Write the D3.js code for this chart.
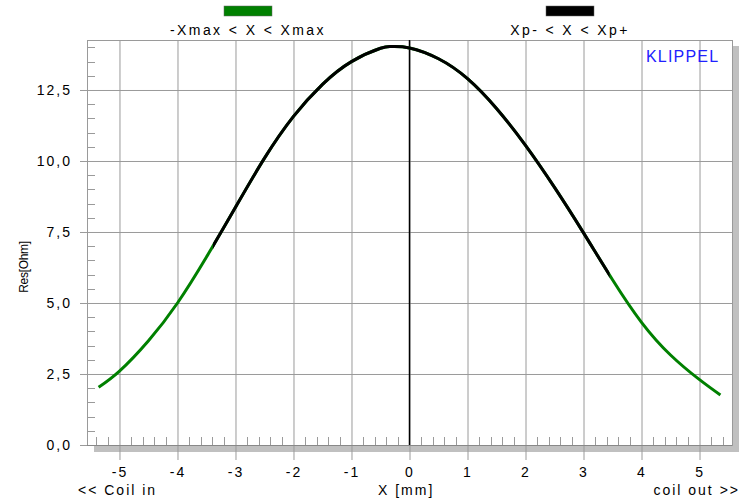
<html>
  <head>
    <script src="https://d3js.org/d3.v7.min.js"></script>
  </head>
  <style>
  body{ margin:0; background:#fff; }
  text{ font-family: "Liberation Sans", Arial, sans-serif; fill:#000; }
  </style>
  <body>
    <svg id="chart" width="742" height="502"></svg>

    <script>
    // values
    const resX = [-5.36, -5.0, -4.5, -4.0, -3.5, -3.0, -2.5, -2.0, -1.5, -1.0, -0.5, -0.3, 0.0, 0.5, 1.0, 1.5, 2.0, 2.5, 3.0, 3.5, 4.0, 4.5, 5.0, 5.36];
    const resY = [2.03, 2.6, 3.67, 5.0, 6.62, 8.37, 10.1, 11.57, 12.7, 13.5, 13.97, 14.03, 13.98, 13.6, 12.9, 11.85, 10.55, 9.07, 7.47, 5.82, 4.32, 3.17, 2.3, 1.76];
    const xpMinus = -3.39, xpPlus = 3.45;
    const xTicks = [-5, -4, -3, -2, -1, 0, 1, 2, 3, 4, 5];
    const yTicks = [0, 2.5, 5, 7.5, 10, 12.5];
    const yTickLabels = ["0,0", "2,5", "5,0", "7,5", "10,0", "12,5"];
    const legendLabels = ["-Xmax < X < Xmax", "Xp- < X < Xp+"];
    const legendColors = ["#008000", "#000000"];

    const svg = d3.select("#chart");
    const pLeft = 87, pRight = 732, pTop = 40, pBottom = 445;
    const x = d3.scaleLinear().domain([-5.56, 5.56]).range([pLeft, pRight]);
    const y = d3.scaleLinear().domain([0, 14.26]).range([pBottom, pTop]);

    // shadow
    svg.append("rect").attr("x", pRight + 1).attr("y", pTop + 6).attr("width", 6).attr("height", pBottom - pTop + 1).attr("fill", "#c0c0c0");
    svg.append("rect").attr("x", pLeft + 7).attr("y", pBottom + 1).attr("width", pRight - pLeft).attr("height", 6).attr("fill", "#c0c0c0");
    svg.append("rect").attr("x", pLeft).attr("y", pTop).attr("width", pRight - pLeft).attr("height", pBottom - pTop).attr("fill", "#fff");

    // grid + labels via axes
    const yAxis = svg.append("g").attr("transform", "translate(80,0)")
      .call(d3.axisLeft(y).tickValues(yTicks).tickSize(-(pRight - 80)).tickPadding(8)
        .tickFormat((d, i) => yTickLabels[i]));
    const xAxis = svg.append("g").attr("transform", "translate(0,460)")
      .call(d3.axisBottom(x).tickValues(xTicks).tickSize(-(460 - pTop)).tickPadding(7)
        .tickFormat(d => String(d)));
    [yAxis, xAxis].forEach(a => {
      a.select(".domain").remove();
      a.selectAll("line").attr("stroke", "#9a9a9a");
      a.selectAll("text").style("font-size", "14px").style("letter-spacing", "2px")
        .style("font-family", '"Liberation Sans", Arial, sans-serif').attr("fill", "#000");
    });

    // minor ticks
    const g = svg.append("g").attr("stroke", "#9a9a9a");
    g.selectAll("line.ym").data(d3.range(0.5, 14.01, 0.5).filter(v => Math.abs(v / 2.5 - Math.round(v / 2.5)) > 1e-6))
      .enter().append("line").attr("class", "ym")
      .attr("x1", pLeft).attr("x2", pLeft + 8)
      .attr("y1", d => Math.round(y(d)) + 0.5).attr("y2", d => Math.round(y(d)) + 0.5);
    g.selectAll("line.xm").data(d3.range(-27, 28).map(k => k / 5).filter(v => Math.abs(v - Math.round(v)) > 1e-6))
      .enter().append("line").attr("class", "xm")
      .attr("x1", d => Math.round(x(d)) + 0.5).attr("x2", d => Math.round(x(d)) + 0.5)
      .attr("y1", pBottom).attr("y2", pBottom - 8);

    // frame
    svg.append("rect").attr("x", pLeft + 0.5).attr("y", pTop + 0.5).attr("width", pRight - pLeft).attr("height", pBottom - pTop)
      .attr("fill", "none").attr("stroke", "#9a9a9a");
    svg.append("line").attr("x1", pLeft).attr("x2", pRight).attr("y1", pBottom + 0.5).attr("y2", pBottom + 0.5).attr("stroke", "#888");

    // x = 0 line
    svg.append("line").attr("x1", x(0)).attr("x2", x(0)).attr("y1", pTop).attr("y2", pBottom)
      .attr("stroke", "#000").attr("stroke-width", 1.5);

    // curve
    const pts = resX.map((v, i) => [v, resY[i]]);
    const line = d3.line().x(d => x(d[0])).y(d => y(d[1])).curve(d3.curveNatural);
    svg.append("clipPath").attr("id", "xp").append("rect")
      .attr("x", x(xpMinus)).attr("y", 0).attr("width", x(xpPlus) - x(xpMinus)).attr("height", 502);
    svg.append("path").attr("d", line(pts)).attr("fill", "none").attr("stroke", legendColors[0]).attr("stroke-width", 3);
    svg.append("path").attr("d", line(pts)).attr("fill", "none").attr("stroke", legendColors[1]).attr("stroke-width", 3)
      .attr("clip-path", "url(#xp)");

    // legend
    const legX = [248, 570];
    legendLabels.forEach((t, i) => {
      svg.append("rect").attr("x", legX[i] - 24).attr("y", 6).attr("width", 48).attr("height", 10)
        .attr("fill", legendColors[i]).attr("stroke", "#666").attr("stroke-width", 0.5);
      svg.append("text").attr("x", legX[i]).attr("y", 35).attr("text-anchor", "middle")
        .style("font-size", "14px").style("letter-spacing", "2.4px").text(t);
    });

    svg.append("text").attr("x", 646).attr("y", 62).style("font-size", "16px").style("letter-spacing", "1.2px")
      .style("fill", "#2020ff").text("KLIPPEL");

    // axis titles
    svg.append("text").attr("x", 78).attr("y", 495).style("font-size", "14px").style("letter-spacing", "2px").text("<< Coil in");
    svg.append("text").attr("x", 378).attr("y", 495).style("font-size", "14px").style("letter-spacing", "2px").text("X [mm]");
    svg.append("text").attr("x", 740).attr("y", 495).attr("text-anchor", "end").style("font-size", "14px").style("letter-spacing", "2px").text("coil out >>");
    svg.append("text").attr("transform", "translate(28,267) rotate(-90)").attr("text-anchor", "middle")
      .style("font-size", "12px").style("letter-spacing", "-0.3px").text("Res[Ohm]");
    </script>
  </body>
</html>
